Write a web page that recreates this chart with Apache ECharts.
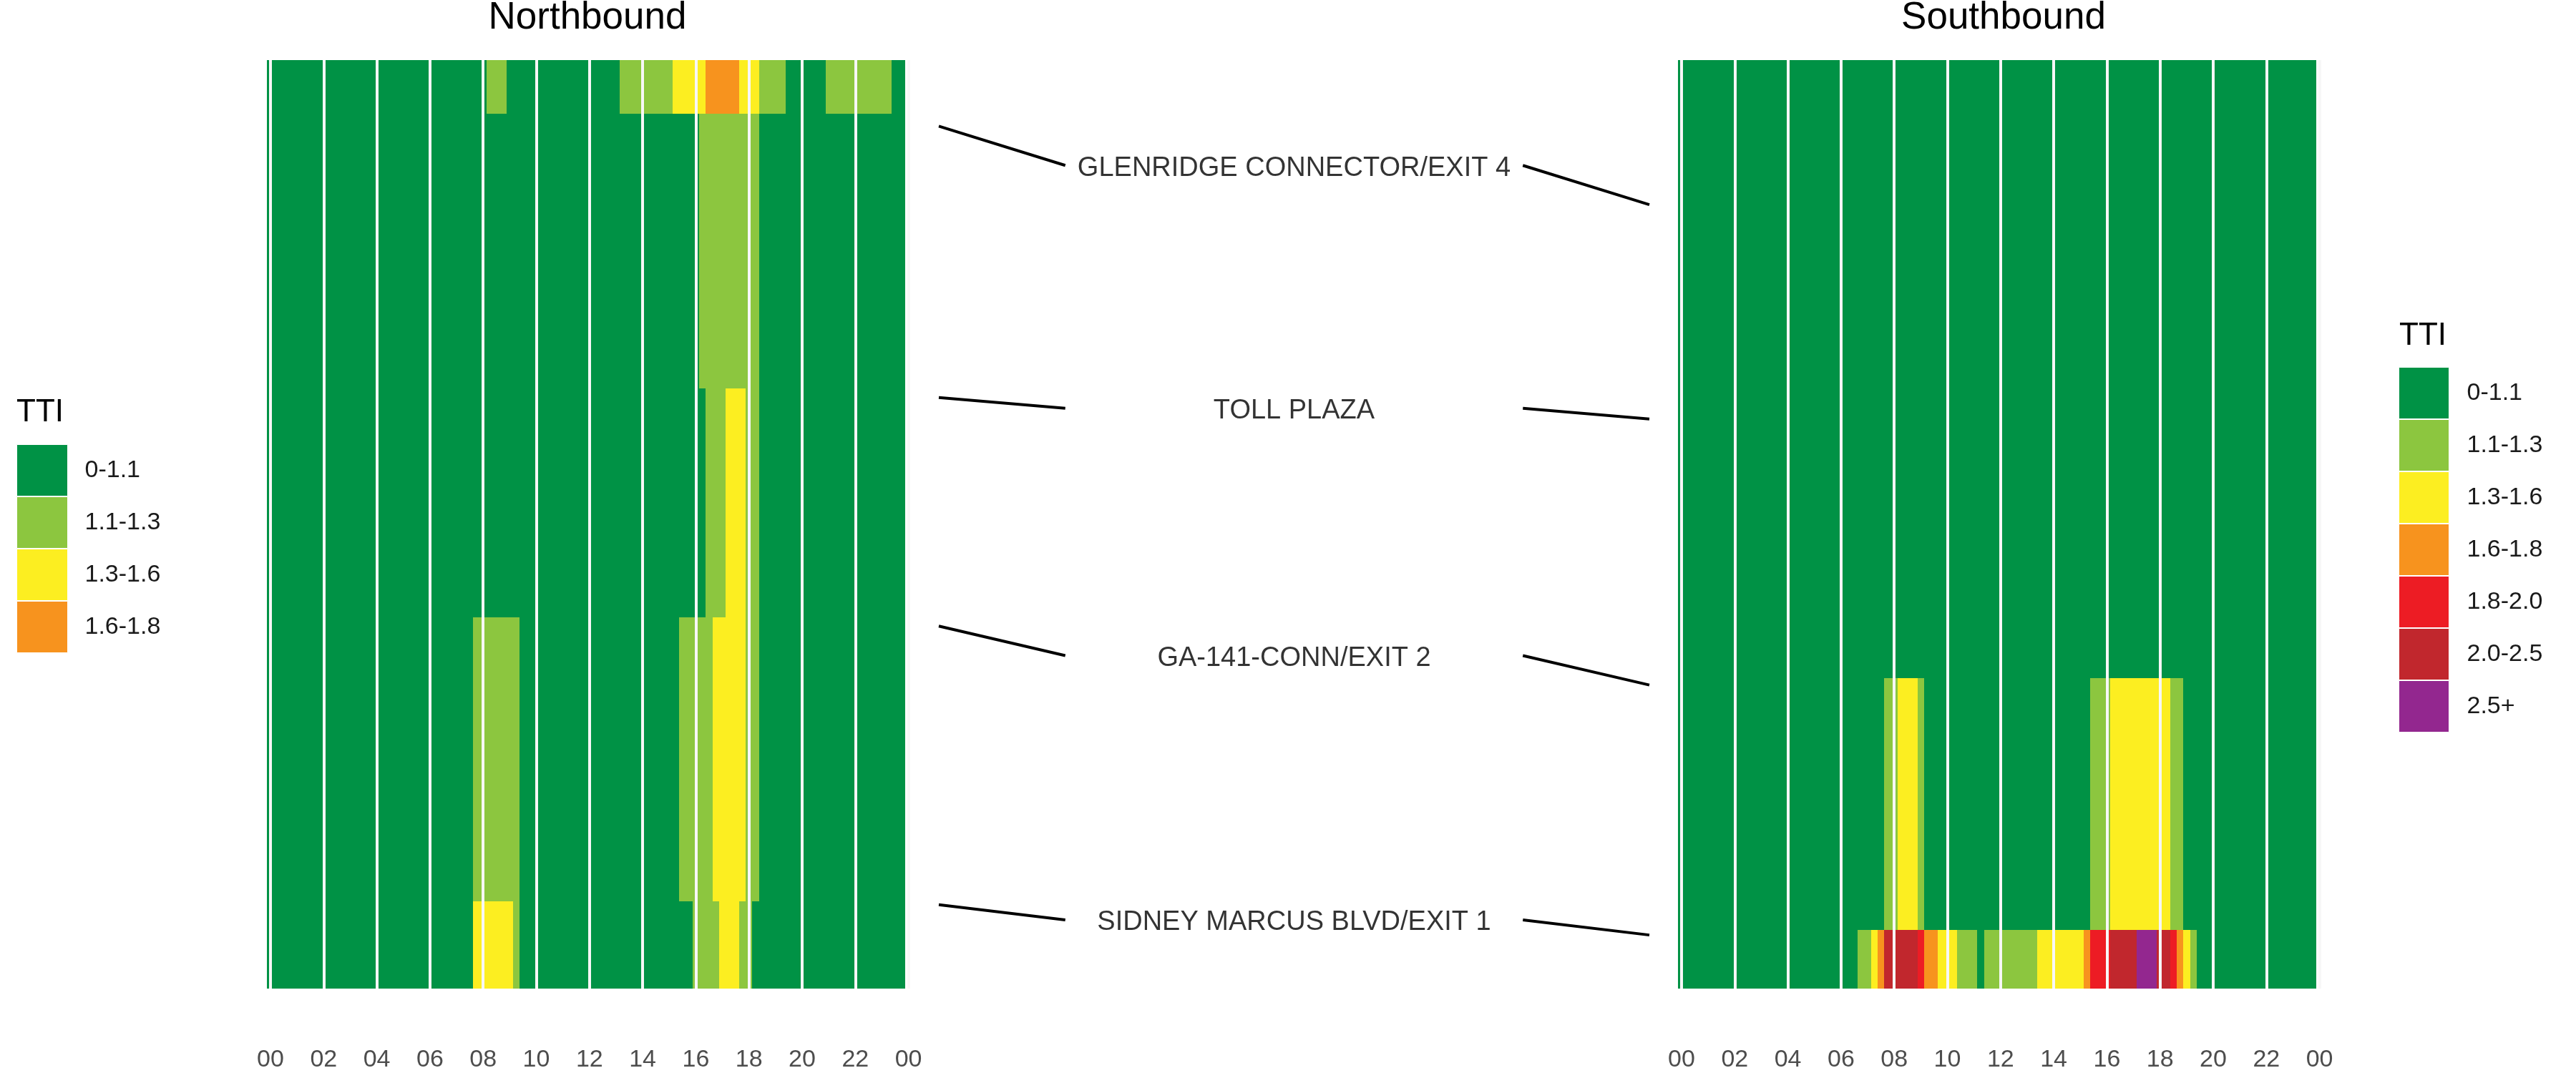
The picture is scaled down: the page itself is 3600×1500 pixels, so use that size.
<!DOCTYPE html>
<html>
<head>
<meta charset="utf-8">
<script src="https://cdn.jsdelivr.net/npm/echarts@6/dist/echarts.min.js"></script>
<style>
  html, body { margin: 0; padding: 0; background: #fff; }
  #chart { width: 3600px; height: 1500px; }
</style>
</head>
<body>
<div id="chart"></div>
<script>
// TTI classes and their colours
var levels = ['0-1.1', '1.1-1.3', '1.3-1.6', '1.6-1.8', '1.8-2.0', '2.0-2.5', '2.5+'];
var levelColors = ['#009245', '#8cc63f', '#fcee21', '#f7931e', '#ed1c24', '#c1272d', '#93278f'];
var nbLevels = [0, 1, 2, 3];
var hourLabels = ['00', '02', '04', '06', '08', '10', '12', '14', '16', '18', '20', '22', '00'];

// road segments, miles from the top of the corridor
var nbSegmentEdges = [0, 0.30, 1.84, 3.12, 4.71, 5.2];
var sbSegmentEdges = [0, 3.46, 4.87, 5.2];

// runs of 15-minute bins per segment: [first bin hour, last bin hour, TTI class]
var nbSeg1 = [[0, 8, 0], [8.25, 8.75, 1], [9, 13, 0], [13.25, 15, 1], [15.25, 16.25, 2], [16.5, 17.5, 3], [17.75, 18.25, 2], [18.5, 19.25, 1], [19.5, 20.75, 0], [21, 23.25, 1], [23.5, 23.75, 0]];
var nbSeg2 = [[0, 16, 0], [16.25, 18.25, 1], [18.5, 23.75, 0]];
var nbSeg3 = [[0, 16.25, 0], [16.5, 17, 1], [17.25, 17.75, 2], [18, 18.25, 1], [18.5, 23.75, 0]];
var nbSeg4 = [[0, 7.5, 0], [7.75, 9.25, 1], [9.5, 15.25, 0], [15.5, 16.5, 1], [16.75, 17.75, 2], [18, 18.25, 1], [18.5, 23.75, 0]];
var nbSeg5 = [[0, 7.5, 0], [7.75, 9, 2], [9.25, 9.25, 1], [9.5, 15.75, 0], [16, 16.75, 1], [17, 17.5, 2], [17.75, 18, 1], [18.25, 23.75, 0]];

var sbSeg1 = [[0, 23.75, 0]];
var sbSeg2 = [[0, 7.5, 0], [7.75, 8, 1], [8.25, 8.75, 2], [9, 9, 1], [9.25, 15.25, 0], [15.5, 16, 1], [16.25, 18.25, 2], [18.5, 18.75, 1], [19, 23.75, 0]];
var sbSeg3 = [[0, 6.5, 0], [6.75, 7, 1], [7.25, 7.25, 2], [7.5, 7.5, 3], [7.75, 8.75, 5], [9, 9, 4], [9.25, 9.5, 3], [9.75, 10.25, 2], [10.5, 11, 1], [11.25, 11.25, 0], [11.5, 13.25, 1], [13.5, 15, 2], [15.25, 15.25, 3], [15.5, 16, 4], [16.25, 17, 5], [17.25, 17.75, 6], [18, 18.25, 5], [18.5, 18.5, 4], [18.75, 18.75, 3], [19, 19, 2], [19.25, 19.25, 1], [19.5, 23.75, 0]];

// landmarks and where they sit on each direction (miles)
var landmarks = ['GLENRIDGE CONNECTOR/EXIT 4', 'TOLL PLAZA', 'GA-141-CONN/EXIT 2', 'SIDNEY MARCUS BLVD/EXIT 1'];
var nbLandmarkMiles = [0.37, 1.89, 3.17, 4.73];
var sbLandmarkMiles = [0.81, 2.01, 3.50, 4.90];

var HALF_BIN = 0.125;
var ROAD_LEN = 5.2;

var chart = echarts.init(document.getElementById('chart'));

function tilesByLevel(segments, edges) {
	var out = levels.map(function() { return []; });
	segments.forEach(function(runs, i) {
		runs.forEach(function(r) {
			out[r[2]].push([r[0] - HALF_BIN, r[1] + HALF_BIN, edges[i], edges[i + 1]]);
		});
	});
	return out;
}

function renderTile(params, api) {
	var p0 = api.coord([api.value(0), api.value(2)]);
	var p1 = api.coord([api.value(1), api.value(3)]);
	var x0 = Math.round(p0[0]), y0 = Math.round(p0[1]);
	var x1 = Math.round(p1[0]), y1 = Math.round(p1[1]);
	return {
		type: 'rect',
		shape: { x: x0, y: y0, width: x1 - x0, height: y1 - y0 },
		style: { fill: api.visual('color') }
	};
}

var nbTiles = tilesByLevel([nbSeg1, nbSeg2, nbSeg3, nbSeg4, nbSeg5], nbSegmentEdges);
var sbTiles = tilesByLevel([sbSeg1, sbSeg2, sbSeg3], sbSegmentEdges);

var TOP = 84, HEIGHT = 1298;
var grids = [
	{ left: 373.4, top: TOP, width: 896.2, height: HEIGHT },  // NB tiles
	{ left: 378, top: TOP, width: 891.6, height: HEIGHT },    // NB hour axis
	{ left: 1312, top: TOP, width: 993, height: HEIGHT },     // landmark connectors
	{ left: 2345.4, top: TOP, width: 896.2, height: HEIGHT }, // SB tiles
	{ left: 2350, top: TOP, width: 891.6, height: HEIGHT }    // SB hour axis
];

function tileAxis(g) {
	return { gridIndex: g, type: 'value', min: -HALF_BIN, max: 24, show: false };
}
function hourAxis(g) {
	return {
		gridIndex: g, type: 'value', min: 0, max: 24, interval: 2, z: 10,
		axisLine: { show: false }, axisTick: { show: false },
		axisLabel: {
			fontSize: 34, color: '#4d4d4d', margin: 83,
			formatter: function(v, idx) { return hourLabels[idx]; }
		},
		splitLine: { show: true, lineStyle: { color: '#f7f7f7', width: 4 } }
	};
}
function roadAxis(g) {
	return { gridIndex: g, type: 'value', min: 0, max: ROAD_LEN, inverse: true, show: false };
}

var series = [];
nbLevels.forEach(function(l) {
	series.push({
		name: levels[l], type: 'custom', xAxisIndex: 0, yAxisIndex: 0,
		renderItem: renderTile, itemStyle: { color: levelColors[l] },
		data: nbTiles[l], z: 2
	});
});
levels.forEach(function(name, l) {
	if (!sbTiles[l].length) return;
	series.push({
		name: name, type: 'custom', xAxisIndex: 3, yAxisIndex: 3,
		renderItem: renderTile, itemStyle: { color: levelColors[l] },
		data: sbTiles[l], z: 2
	});
});

landmarks.forEach(function(name, i) {
	var mid = (nbLandmarkMiles[i] + sbLandmarkMiles[i]) / 2;
	series.push({
		type: 'line', xAxisIndex: 2, yAxisIndex: 2, symbol: 'none', silent: true,
		lineStyle: { color: '#000', width: 4 },
		data: [[0, nbLandmarkMiles[i]], [0.178, mid]]
	});
	series.push({
		type: 'line', xAxisIndex: 2, yAxisIndex: 2, symbol: 'none', silent: true,
		lineStyle: { color: '#000', width: 4 },
		data: [[0.822, mid], [1, sbLandmarkMiles[i]]]
	});
	series.push({
		type: 'scatter', xAxisIndex: 2, yAxisIndex: 2, symbolSize: 0, silent: true,
		label: { show: true, position: 'inside', offset: [0, 4], formatter: name, fontSize: 38, color: '#000' },
		data: [[0.5, mid]]
	});
});

function legendData(idx) {
	return idx.map(function(l) {
		return { name: levels[l], itemStyle: { color: levelColors[l] } };
	});
}

var option = {
	backgroundColor: '#fff',
	animation: false,
	textStyle: { fontFamily: 'Liberation Sans' },
	title: [
		{ text: 'Northbound', left: 821, textAlign: 'center', top: -1, padding: 0,
		  textStyle: { fontSize: 53, fontWeight: 'normal', color: '#000' } },
		{ text: 'Southbound', left: 2800, textAlign: 'center', top: -1, padding: 0,
		  textStyle: { fontSize: 53, fontWeight: 'normal', color: '#000' } },
		{ text: 'TTI', left: 23, top: 555, padding: 0,
		  textStyle: { fontSize: 44, fontWeight: 'normal', color: '#000' } },
		{ text: 'TTI', left: 3353, top: 448, padding: 0,
		  textStyle: { fontSize: 44, fontWeight: 'normal', color: '#000' } }
	],
	legend: [
		{ orient: 'vertical', left: 23, top: 621, padding: 0, itemGap: 0,
		  itemWidth: 71, itemHeight: 72, icon: 'rect', selectedMode: false,
		  itemStyle: { borderColor: '#fff', borderWidth: 1 },
		  textStyle: { fontSize: 34, color: '#1a1a1a', padding: [0, 0, 0, 19] },
		  data: legendData(nbLevels) },
		{ orient: 'vertical', left: 3352, top: 513, padding: 0, itemGap: 0,
		  itemWidth: 70, itemHeight: 72, icon: 'rect', selectedMode: false,
		  itemStyle: { borderColor: '#fff', borderWidth: 1 },
		  textStyle: { fontSize: 34, color: '#1a1a1a', padding: [0, 0, 0, 20] },
		  data: legendData([0, 1, 2, 3, 4, 5, 6]) }
	],
	grid: grids,
	xAxis: [tileAxis(0), hourAxis(1),
		{ gridIndex: 2, type: 'value', min: 0, max: 1, show: false },
		tileAxis(3), hourAxis(4)],
	yAxis: [roadAxis(0), roadAxis(1), roadAxis(2), roadAxis(3), roadAxis(4)],
	series: series
};
chart.setOption(option);
</script>
</body>
</html>
